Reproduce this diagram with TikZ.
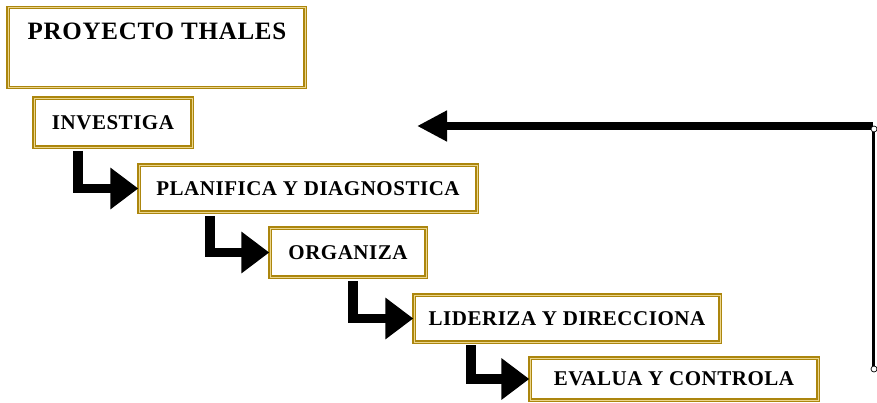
\documentclass[tikz,border=0pt]{standalone}
\usepackage{fontspec}
\setmainfont{Liberation Serif}
\newfontfamily\boxfont[LetterSpace=2.5]{Liberation Serif}
\newfontfamily\titlefont[LetterSpace=3]{Liberation Serif}
\usetikzlibrary{arrows.meta,calc}
\definecolor{gold}{RGB}{172,134,14}
\definecolor{goldlight}{RGB}{236,214,140}
\begin{document}
\begin{tikzpicture}[x=1pt,y=-1pt,
  stepbox/.style={draw=gold, line width=1.4pt, double=goldlight, double distance=0.8pt,
    fill=white, inner sep=0pt, text=black,
    font=\boxfont\bfseries\fontsize{21}{24}\selectfont},
  titlebox/.style={draw=gold, line width=1.4pt, double=goldlight, double distance=0.8pt,
    fill=white, inner sep=0pt},
  titletext/.style={inner sep=0pt, anchor=base, font=\titlefont\bfseries\fontsize{25}{30}\selectfont},
  elbow/.style={line width=9.5pt, -{Triangle[length=28pt,width=40pt]}},
  retarrow/.style={line width=8pt, -{Triangle[length=30pt,width=29pt]}},
  retline/.style={line width=3pt},
  endpt/.style={circle, draw=black, fill=white, line width=0.7pt, inner sep=0pt, minimum size=6pt}
]
\useasboundingbox (0,0) rectangle (877,403);

% title
\node[titlebox, minimum width=297pt, minimum height=80pt] (title) at (156.5,47.5) {};
\node[titletext] (titletxt) at (157,40) {PROYECTO THALES};

% steps
\node[stepbox, minimum width=158pt, minimum height=49pt] (inv) at (113,122.5) {INVESTIGA};
\node[stepbox, minimum width=338pt, minimum height=47pt] (plan) at (308,188.5) {PLANIFICA Y DIAGNOSTICA};
\node[stepbox, minimum width=156pt, minimum height=49pt] (org) at (348,252.5) {ORGANIZA};
\node[stepbox, minimum width=306pt, minimum height=47pt] (lid) at (567,318.5) {LIDERIZA Y DIRECCIONA};
\node[stepbox, minimum width=288pt, minimum height=42pt] (eva) at (674,379) {EVALUA Y CONTROLA};

% elbow connectors
\coordinate (s1) at (78,151);
\coordinate (s2) at (210,216);
\coordinate (s3) at (353,281);
\coordinate (s4) at (471,345);
\draw[elbow] (s1) |- (plan.west);
\draw[elbow] (s2) |- (org.west);
\draw[elbow] (s3) |- (lid.west);
\draw[elbow] (s4) |- (eva.west);

% return connector
\coordinate (top) at (873,126);
\coordinate (bot) at (873,369);
\coordinate (rtip) at (417,126);
\draw[retline] (bot) -- (top);
\draw[retarrow] (top) -- (rtip);
\node[endpt] (ctop) at (874,129) {};
\node[endpt] (cbot) at (874,369) {};
\end{tikzpicture}
\end{document}
